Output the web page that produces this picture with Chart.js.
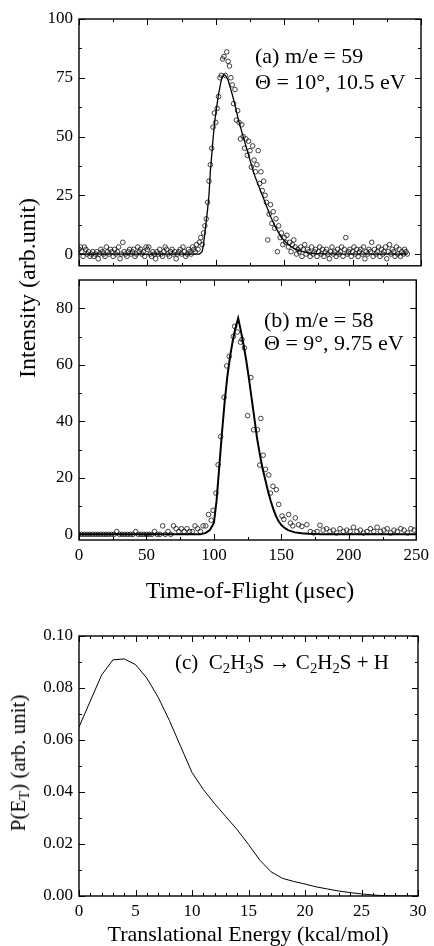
<!DOCTYPE html>
<html><head><meta charset="utf-8">
<script src="https://cdn.jsdelivr.net/npm/chart.js@4.4.0/dist/chart.umd.min.js"></script>
<style>
html,body{margin:0;padding:0;background:#fff;}
#wrap{position:relative;width:434px;height:946px;overflow:hidden;font-family:"Liberation Serif","Times New Roman",serif;color:#000;}
canvas{position:absolute;left:0;}
.t{position:absolute;white-space:nowrap;}
.rot{position:absolute;white-space:nowrap;transform:translate(-50%,-50%) rotate(-90deg);}
.ctr{position:absolute;white-space:nowrap;transform:translate(-50%,-50%);}
sub{font-size:70%;vertical-align:-0.25em;line-height:0;}
</style></head><body>
<div id="wrap">
<canvas id="cA" width="434" height="282" style="top:0"></canvas>
<canvas id="cB" width="434" height="348" style="top:262px"></canvas>
<canvas id="cC" width="434" height="336" style="top:610px"></canvas>
<div class="t" style="left:255px;top:43px;font-size:22px;line-height:26px">(a) m/e = 59</div>
<div class="t" style="left:255px;top:69px;font-size:22px;line-height:26px">Θ = 10°, 10.5 eV</div>
<div class="t" style="left:264px;top:307px;font-size:22px;line-height:26px">(b) m/e = 58</div>
<div class="t" style="left:264px;top:330px;font-size:22px;line-height:26px">Θ = 9°, 9.75 eV</div>
<div class="t" style="left:175px;top:649px;font-size:21px;line-height:26px">(c)&nbsp; C<sub>2</sub>H<sub>3</sub>S → C<sub>2</sub>H<sub>2</sub>S + H</div>
<div class="rot" style="left:27px;top:288px;font-size:24px;line-height:28px">Intensity (arb.unit)</div>
<div class="ctr" style="left:250px;top:590px;font-size:24px;line-height:28px">Time-of-Flight (μsec)</div>
<div class="rot" style="left:18px;top:763px;font-size:21px;line-height:26px">P(E<sub>T</sub>) (arb. unit)</div>
<div class="ctr" style="left:248px;top:934px;font-size:22px;line-height:26px">Translational Energy (kcal/mol)</div>
</div>
<script>
// ---------- Panel (a): m/e = 59, TOF data ----------
const tofA = [0,1,2,3,4,5,6,7,8,9,10,11,12,13,14,15,16,17,18,19,20,21,22,23,24,25,26,27,28,29,
30,31,32,33,34,35,36,37,38,39,40,41,42,43,44,45,46,47,48,49,50,51,52,53,54,55,56,57,58,59,
60,61,62,63,64,65,66,67,68,69,70,71,72,73,74,75,76,77,78,79,80,81,82,83,84,85,86,87,88,89,
90,91,92,93,94,95,96,97,98,99,100,101,102,103,104,105,106,107,108,109,110,111,112,113,114,115,116,117,118,119,
120,121,122,123,124,125,126,127,128,129,130,131,132,133,134,135,136,137,138,139,140,141,142,143,144,145,146,147,148,149,
150,151,152,153,154,155,156,157,158,159,160,161,162,163,164,165,166,167,168,169,170,171,172,173,174,175,176,177,178,179,
180,181,182,183,184,185,186,187,188,189,190,191,192,193,194,195,196,197,198,199,200,201,202,203,204,205,206,207,208,209,
210,211,212,213,214,215,216,217,218,219,220,221,222,223,224,225,226,227,228,229,230,231,232,233,234,235,236,237,238,239,240];
const intA = [2,3,1,-1,3,2,0,1,-1,0,
1,-1,0,1,-2,0,2,1,0,-1,
3,1,0,2,1,-1,2,0,1,3,
-2,0,5,1,0,-1,1,2,0,1,
2,-1,0,3,1,2,0,1,-1,3,
2,3,0,-1,1,0,-2,1,0,2,
0,-1,1,3,2,0,-1,1,2,0,
1,-2,0,1,2,0,3,1,-1,0,
2,1,0,3,2,1,4,2,5,7,
4,9,12,15,22,31,38,45,54,60,
56,62,67,75,76,83,84,76,86,82,
80,75,72,64,70,57,61,56,49,55,
50,45,49,42,48,44,37,46,40,35,
38,44,30,35,27,31,25,22,6,17,
21,13,18,11,15,1,12,7,9,4,
7,5,8,3,5,1,4,6,3,0,
2,1,3,-1,2,4,0,2,1,-1,
3,0,1,2,-1,1,3,0,2,-1,
1,2,0,-2,1,3,0,1,-1,2,
0,1,3,-1,2,7,0,1,2,-1,
1,3,0,2,-1,1,2,0,3,-2,
1,0,2,1,5,-1,2,0,1,3,
-1,2,0,1,3,-2,1,4,0,2,
1,-1,3,0,2,-1,1,0,2,1,
0];
const fitAt = [0,88,90,91,92,93,94,95,96,97,98,99,100,101,102,103,104,105,106,107,108,109,110,112,114,116,118,120,124,128,132,136,140,144,148,152,156,160,165,170,180,240];
const fitAv = [0,0,1,4,9,14,19,25,35,42,49,55,60,64,68,71,74,75.5,76.3,76,75,74,72,68,63.5,58.5,54,50,42,34,28,22,16,11,7,4.5,2.8,1.6,0.8,0.3,0.1,0];

// ---------- Panel (b): m/e = 58, TOF data ----------
const tofB = [0,2,4,6,8,10,12,14,16,18,20,22,24,26,28,30,32,34,36,38,40,42,44,46,48,50,52,54,56,58,60,62,64,66,68,70,72,74,76,78,80,82,84,86,88,90,92,94,96,98,
99.4,101.5,103.1,105,107.5,109.5,111.4,114.4,115.4,117.3,119.7,120.8,122.6,125,127.4,129.4,132.3,134,134.8,136.5,138.2,140.7,141.9,143.8,146.3,148,150.5,151.8,155.4,156.7,158.5,160.3,162.8,165.2,168.9,171.5,174,176.5,178.6,181,183.5,186,188.5,191,193.5,196,198.5,201,203.5,206,208.5,211,213.5,216,218.5,221,223.5,226,228.5,231,233.5,236,238.5,241,243.5,246,248.5];
const intB = [0,0,0,0,0,0,0,0,0,0,0,0,0,0,1,0,0,0,0,0,0,1,0,0,0,0,0,0,1,0,0,3,0,1,0,3,2,1,2,1,2,1,1,3,2,1,3,3,7,5,
8.5,14.6,24.6,34.6,48.5,59.6,63,70,73.6,71.6,68,69,66,42,55.5,37,37,24.5,41,28,23,21,14.6,17,15.8,10.6,6.5,5.3,7,4,3,5.8,3.4,2.8,3.4,1,0.5,1,3.2,1.5,2,1,1.5,0.5,2,1,1.5,1,2.5,1,1.5,0.5,1,2,1,2.5,1,1.5,2,0.5,1.5,1,2,1.5,0.5,2,1.5];
const fitBt = [0,90,94,97,100,102,104,106,108,110,112,114,116,118,120,122,124,126,128,130,132,134,136,138,140,142,144,146,148,150,152,155,160,165,170,180,250];
const fitBv = [0,0,0.5,1.5,4,12,24,36,47,56,63,68.5,73,76.5,72,67,61.5,55,48,41,34,28.5,23.5,19.5,15.5,12,9,6.5,4.6,3.3,2.4,1.5,0.7,0.4,0.2,0.05,0];

// ---------- Panel (c): P(E_T) ----------
const energyC = [0,1,2,3,4,5,6,7,8,9,10,11,12,13,14,15,16,17,18,19,20,21,22,23,24,25,26,27,28,29,30];
const probC = [0.065,0.075,0.085,0.0908,0.0912,0.089,0.0838,0.0765,0.0675,0.0575,0.0475,0.041,0.0355,0.0305,0.0255,0.0198,0.0138,0.0093,0.0068,0.0056,0.0046,0.0035,0.0027,0.0019,0.0013,0.0008,0.0004,0.0001,0,0,0];

// ---------- Tick labels ----------
const yTicksA = [0,25,50,75,100];
const yTicksB = [0,20,40,60,80];
const xTicksTOF = [0,50,100,150,200,250];
const yTicksC = [0,0.02,0.04,0.06,0.08,0.10];
const xTicksC = [0,5,10,15,20,25,30];

const pts = (xs, ys) => xs.slice(0, Math.min(xs.length, ys.length)).map((x, i) => ({x, y: ys[i]}));
const range = (a, b, s) => { const r = []; for (let v = a; v <= b + 1e-9; v += s) r.push(+v.toFixed(6)); return r; };

const FONT = {family: '"Liberation Serif","Times New Roman",serif', size: 17};

const insideTicks = {
  id: 'insideTicks',
  afterDatasetsDraw(chart, args, o) {
    const {ctx, chartArea: a} = chart;
    const x = chart.scales.x, y = chart.scales.y;
    ctx.save();
    ctx.strokeStyle = '#000';
    ctx.lineWidth = 1;
    const seg = (x1, y1, x2, y2) => { ctx.beginPath(); ctx.moveTo(x1, y1); ctx.lineTo(x2, y2); ctx.stroke(); };
    [[o.xMajor, 6], [o.xMinor, 3]].forEach(([vals, len]) => vals.forEach(v => {
      const p = Math.round(x.getPixelForValue(v)) + 0.5;
      seg(p, a.bottom, p, a.bottom - len);
      seg(p, a.top, p, a.top + len);
    }));
    [[o.yMajor, 6], [o.yMinor, 3]].forEach(([vals, len]) => vals.forEach(v => {
      const p = Math.round(y.getPixelForValue(v)) + 0.5;
      seg(a.left, p, a.left + len, p);
      seg(a.right, p, a.right - len, p);
    }));
    ctx.lineWidth = 1.4;
    ctx.strokeRect(a.left, a.top, a.right - a.left, a.bottom - a.top);
    ctx.restore();
  }
};

function makeChart(id, o) {
  return new Chart(document.getElementById(id), {
    type: 'scatter',
    data: {datasets: o.datasets},
    options: {
      responsive: false, animation: false, events: [],
      layout: {padding: {left: 0, right: o.padRight, top: o.padTop, bottom: 0}},
      plugins: {legend: {display: false}, tooltip: {enabled: false},
        insideTicks: {xMajor: o.xMajor, xMinor: o.xMinor, yMajor: o.yMajor, yMinor: o.yMinor}},
      scales: {
        x: {type: 'linear', min: o.xMin, max: o.xMax,
          grid: {display: false, drawTicks: false}, border: {display: false},
          ticks: {display: o.xLabels, font: FONT, color: '#000', padding: 5, maxRotation: 0, autoSkip: false,
            callback: o.xFmt},
          afterBuildTicks: s => { s.ticks = o.xMajor.map(v => ({value: v})); },
          afterFit: s => { s.height = o.xHeight; }},
        y: {type: 'linear', min: o.yMin, max: o.yMax,
          grid: {display: false, drawTicks: false}, border: {display: false},
          ticks: {font: FONT, color: '#000', padding: 6, autoSkip: false, callback: o.yFmt},
          afterBuildTicks: s => { s.ticks = o.yMajor.map(v => ({value: v})); },
          afterFit: s => { s.width = 79; }}
      }
    },
    plugins: [insideTicks]
  });
}

const circles = (data) => ({data, showLine: false, pointStyle: 'circle', pointRadius: 2.3,
  pointBorderWidth: 0.8, pointBorderColor: '#111', pointBackgroundColor: 'rgba(255,255,255,0)'});
const curve = (data, w) => ({data, showLine: true, pointRadius: 0, borderColor: '#000', borderWidth: w, tension: 0});

makeChart('cA', {
  datasets: [curve(pts(fitAt, fitAv), 1.3), circles(pts(tofA, intA))],
  xMin: 0, xMax: 250, yMin: -5, yMax: 100, padTop: 19, padRight: 13, xHeight: 2, xLabels: false,
  xMajor: xTicksTOF, xMinor: range(25, 225, 50), yMajor: yTicksA, yMinor: range(12.5, 87.5, 25),
  xFmt: v => String(v), yFmt: v => String(v)
});
makeChart('cB', {
  datasets: [curve(pts(fitBt, fitBv), 2), circles(pts(tofB, intB))],
  xMin: 0, xMax: 250, yMin: -2, yMax: 90, padTop: 18, padRight: 13, xHeight: 70, xLabels: true,
  xMajor: xTicksTOF, xMinor: range(25, 225, 50), yMajor: yTicksB, yMinor: range(10, 70, 20),
  xFmt: v => String(v), yFmt: v => String(v)
});
makeChart('cC', {
  datasets: [curve(pts(energyC, probC), 1)],
  xMin: 0, xMax: 30, yMin: 0, yMax: 0.10, padTop: 26, padRight: 16, xHeight: 50, xLabels: true,
  xMajor: xTicksC, xMinor: range(1, 29, 1).filter(v => v % 5 !== 0), yMajor: yTicksC, yMinor: range(0.01, 0.09, 0.02),
  xFmt: v => String(v), yFmt: v => v.toFixed(2)
});
</script>
</body></html>
